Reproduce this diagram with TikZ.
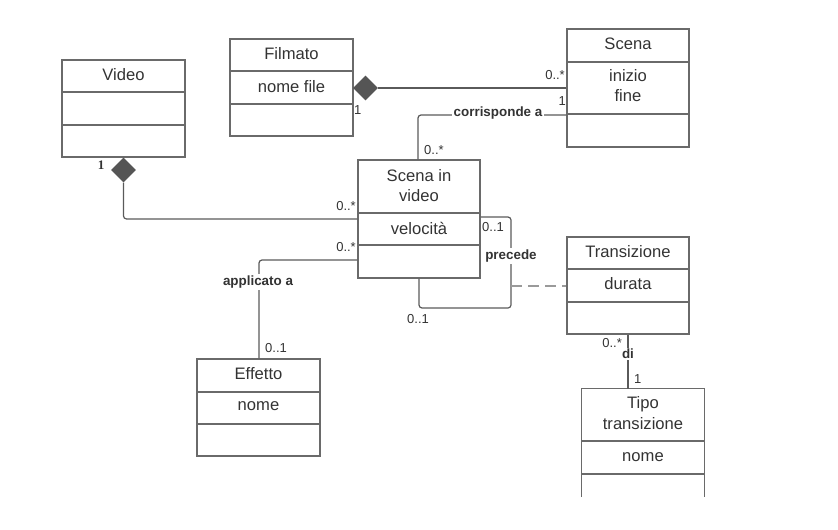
\documentclass[tikz,border=0pt]{standalone}
\usepackage{fontspec}
\setmainfont{Liberation Sans}
\newfontfamily\serifone{Liberation Serif}
\usetikzlibrary{shapes.geometric}
\definecolor{boxc}{HTML}{6A6A6A}
\definecolor{linec}{HTML}{5A5A5A}
\definecolor{txtc}{HTML}{333333}
\definecolor{dashc}{HTML}{9A9A9A}
\definecolor{diac}{HTML}{555555}
\begin{document}
\begin{tikzpicture}[x=1pt,y=-1pt,
  box/.style={draw=boxc, line width=1.1pt, rectangle, inner sep=0pt, minimum width=123pt},
  divider/.style={draw=boxc, line width=1.1pt},
  title/.style={text=txtc, font=\fontsize{16.6}{19}\selectfont, inner sep=0pt, anchor=center},
  mult/.style={text=txtc, font=\fontsize{13}{14}\selectfont, inner sep=0pt},
  assoc/.style={text=txtc, font=\bfseries\fontsize{13.4}{15}\selectfont, inner sep=1.5pt, fill=white},
  conn/.style={draw=linec, line width=1.2pt, rounded corners=3pt},
  dashconn/.style={draw=dashc, line width=1.2pt, dash pattern=on 11pt off 6pt},
  comp/.style={diamond, fill=diac, draw=none, inner sep=0pt, minimum width=25pt, minimum height=25pt}
]
\useasboundingbox (0,0) rectangle (838,530);

% Video
\node[box, minimum height=97pt] (video) at (123.5,108.5) {};
\draw[divider] (video.west |- 0,92) -- (video.east |- 0,92);
\draw[divider] (video.west |- 0,125) -- (video.east |- 0,125);
\node[title] (tvideo) at (123.5,75) {Video};

% Filmato
\node[box, minimum height=97pt] (filmato) at (291.5,87.5) {};
\draw[divider] (filmato.west |- 0,71) -- (filmato.east |- 0,71);
\draw[divider] (filmato.west |- 0,104) -- (filmato.east |- 0,104);
\node[title] (tfilmato) at (291.5,54) {Filmato};
\node[title] (afilmato) at (291.5,87) {nome file};

% Scena
\node[box, minimum width=122pt, minimum height=118pt] (scena) at (628,88) {};
\draw[divider] (scena.west |- 0,62) -- (scena.east |- 0,62);
\draw[divider] (scena.west |- 0,114) -- (scena.east |- 0,114);
\node[title] (tscena) at (628,44) {Scena};
\node[title] (ascena1) at (628,76) {inizio};
\node[title] (ascena2) at (628,96) {fine};

% Scena in video
\node[box, minimum width=122pt, minimum height=118pt] (siv) at (419,219) {};
\draw[divider] (siv.west |- 0,213) -- (siv.east |- 0,213);
\draw[divider] (siv.west |- 0,245) -- (siv.east |- 0,245);
\node[title] (tsiv1) at (419,176) {Scena in};
\node[title] (tsiv2) at (419,196) {video};
\node[title] (asiv) at (419,228) {velocità};

% Effetto
\node[box, minimum height=97pt] (effetto) at (258.5,407.5) {};
\draw[divider] (effetto.west |- 0,392) -- (effetto.east |- 0,392);
\draw[divider] (effetto.west |- 0,424) -- (effetto.east |- 0,424);
\node[title] (teffetto) at (258.5,374) {Effetto};
\node[title] (aeffetto) at (258.5,406) {nome};

% Transizione
\node[box, minimum width=122pt, minimum height=97pt] (trans) at (628,285.5) {};
\draw[divider] (trans.west |- 0,269) -- (trans.east |- 0,269);
\draw[divider] (trans.west |- 0,302) -- (trans.east |- 0,302);
\node[title] (ttrans) at (628,252) {Transizione};
\node[title] (atrans) at (628,284) {durata};

% Tipo transizione (cut off at bottom)
\node[rectangle, draw=none, inner sep=0pt, minimum width=122pt, minimum height=108pt] (tipo) at (643,443) {};
\draw[divider] (tipo.south west) -- (tipo.north west) -- (tipo.north east) -- (tipo.south east);
\draw[divider] (tipo.west |- 0,441) -- (tipo.east |- 0,441);
\draw[divider] (tipo.west |- 0,474) -- (tipo.east |- 0,474);
\node[title] (ttipo1) at (643,404) {Tipo};
\node[title] (ttipo2) at (643,424) {transizione};
\node[title] (atipo) at (643,457) {nome};

% Filmato -- Scena (composition)
\node[comp] (dfil) at (365.5,88) {};
\draw[conn] (dfil.east) -- (scena.west |- dfil.east);
\node[mult, anchor=east] (m1) at (565,75) {0..*};
\node[mult, anchor=west] (m2) at (354,110) {1};

% Video -- Scena in video (composition)
\node[comp] (dvid) at (123.5,170) {};
\draw[conn] (dvid.south) -- (123.5,219) -- (siv.west |- 0,219);
\node[text=txtc, font=\serifone\bfseries\fontsize{13}{14}\selectfont, inner sep=0pt] (m3) at (101,165) {1};
\node[mult, anchor=east] (m4) at (356,206) {0..*};

% corrisponde a
\coordinate (c1) at (418,115);
\draw[conn] (scena.west |- c1) -- (c1) -- (siv.north -| c1);
\node[assoc] (lcorr) at (498,113) {corrisponde a};
\node[mult, anchor=east] (m5) at (566,101) {1};
\node[mult, anchor=west] (m6) at (424,150) {0..*};

% applicato a
\coordinate (c2) at (259,260);
\draw[conn] (siv.west |- c2) -- (c2) -- (effetto.north -| c2);
\node[assoc] (lappl) at (258,282) {applicato a};
\node[mult, anchor=east] (m7) at (356,247) {0..*};
\node[mult, anchor=west] (m8) at (265,348) {0..1};

% precede (self loop)
\coordinate (p1) at (511,217);
\coordinate (p2) at (511,308);
\coordinate (p3) at (419,308);
\draw[conn] (siv.east |- p1) -- (p1) -- (p2) -- (p3) -- (siv.south -| p3);
\coordinate (p4) at (511,286);
\draw[dashconn] (p4) -- (trans.west |- p4);
\node[assoc] (lprec) at (511,256) {precede};
\node[mult, anchor=west] (m9) at (482,227) {0..1};
\node[mult] (m10) at (418,319) {0..1};

% di
\draw[conn] (trans.south -| 628,0) -- (tipo.north -| 628,0);
\node[assoc, inner sep=1pt] (ldi) at (628,354) {di};
\node[mult, anchor=east] (m11) at (622,343) {0..*};
\node[mult, anchor=west] (m12) at (634,379) {1};
\end{tikzpicture}
\end{document}
